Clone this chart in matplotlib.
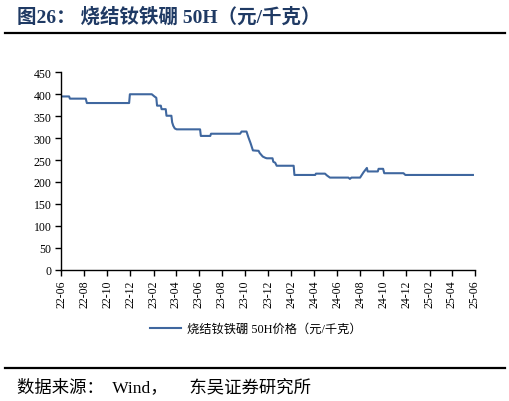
import matplotlib
matplotlib.use('Agg')
import matplotlib.pyplot as plt
import matplotlib.dates as mdates
import pandas as pd

# price of sintered NdFeB 50H, yuan/kg
dates = ["2022-06-01", "2022-06-22", "2022-06-24", "2022-08-05", "2022-08-08",
         "2022-11-28", "2022-11-30", "2023-01-27", "2023-02-03", "2023-02-08",
         "2023-02-10", "2023-02-20", "2023-02-22", "2023-03-05", "2023-03-07",
         "2023-03-20", "2023-03-22", "2023-03-25", "2023-03-29", "2023-04-03",
         "2023-06-04", "2023-06-06", "2023-07-01", "2023-07-03", "2023-09-18",
         "2023-09-22", "2023-10-05", "2023-10-10", "2023-10-16", "2023-10-22",
         "2023-11-06", "2023-11-09", "2023-11-13", "2023-11-17", "2023-11-24",
         "2023-11-28", "2023-12-13", "2023-12-15", "2023-12-20", "2023-12-24",
         "2024-02-07", "2024-02-09", "2024-04-04", "2024-04-06", "2024-04-30",
         "2024-05-05", "2024-05-13", "2024-07-01", "2024-07-05", "2024-07-09",
         "2024-08-01", "2024-08-10", "2024-08-19", "2024-08-21", "2024-09-17",
         "2024-09-19", "2024-10-01", "2024-10-04", "2024-11-24", "2024-11-29",
         "2025-05-27"]
price = [395, 395, 390, 390, 380,
         380, 400, 400, 395, 392,
         374, 374, 366, 366, 351,
         351, 336, 328, 322, 320,
         320, 305, 305, 310, 310,
         315, 315, 302, 288, 272,
         271, 266, 262, 258, 255,
         254, 254, 246, 244, 237,
         237, 216, 216, 219, 219,
         215, 210, 210, 207, 210,
         210, 222, 232, 224, 224,
         230, 230, 220, 220, 216,
         216]
x = pd.to_datetime(dates)

SERIF_CJK = ['Liberation Serif', 'Noto Sans CJK SC']
NAVY = '#1f3a64'

fig = plt.figure(figsize=(5.10, 4.02), dpi=100)
ax = fig.add_axes([0.120, 0.3266, 0.811, 0.491])

ax.plot(x, price, color='#3f679f', lw=1.5, label='烧结钕铁硼 50H价格（元/千克）')

ax.set_ylim(0, 450)
ax.set_yticks(range(0, 451, 50))
ax.set_xlim(pd.Timestamp('2022-06-01'), pd.Timestamp('2025-06-01'))
ax.xaxis.set_major_locator(mdates.MonthLocator(bymonth=[2, 4, 6, 8, 10, 12]))
ax.xaxis.set_major_formatter(mdates.DateFormatter('%y-%m'))
for s in ('top', 'right'):
    ax.spines[s].set_visible(False)
for s in ('left', 'bottom'):
    ax.spines[s].set_linewidth(1.0)
ax.tick_params(axis='both', direction='out', length=4, width=1.0,
               labelsize=8.5, pad=3)
for lab in ax.get_xticklabels():
    lab.set_rotation(90); lab.set_family('Liberation Serif')
for lab in ax.get_yticklabels():
    lab.set_family('Liberation Serif')

leg = ax.legend(loc='center', bbox_to_anchor=(0.471, -0.30), frameon=False,
                prop={'family': SERIF_CJK, 'size': 8.8}, handlelength=2.5,
                handletextpad=0.5)

fig.text(0.033, 0.957, '图26： 烧结钕铁硼 50H（元/千克）', color=NAVY,
         fontsize=14, fontweight='bold', family=SERIF_CJK, va='center')
fig.add_artist(plt.Line2D([0.010, 0.990], [0.915, 0.915], color='black', lw=1.6))
fig.add_artist(plt.Line2D([0.010, 0.990], [0.081, 0.081], color='black', lw=1.6))
fig.text(0.033, 0.036, '数据来源：  Wind，\u3000 东吴证券研究所', color='black',
         fontsize=12.5, family=SERIF_CJK, va='center')

fig.savefig('out.png', dpi=100)
